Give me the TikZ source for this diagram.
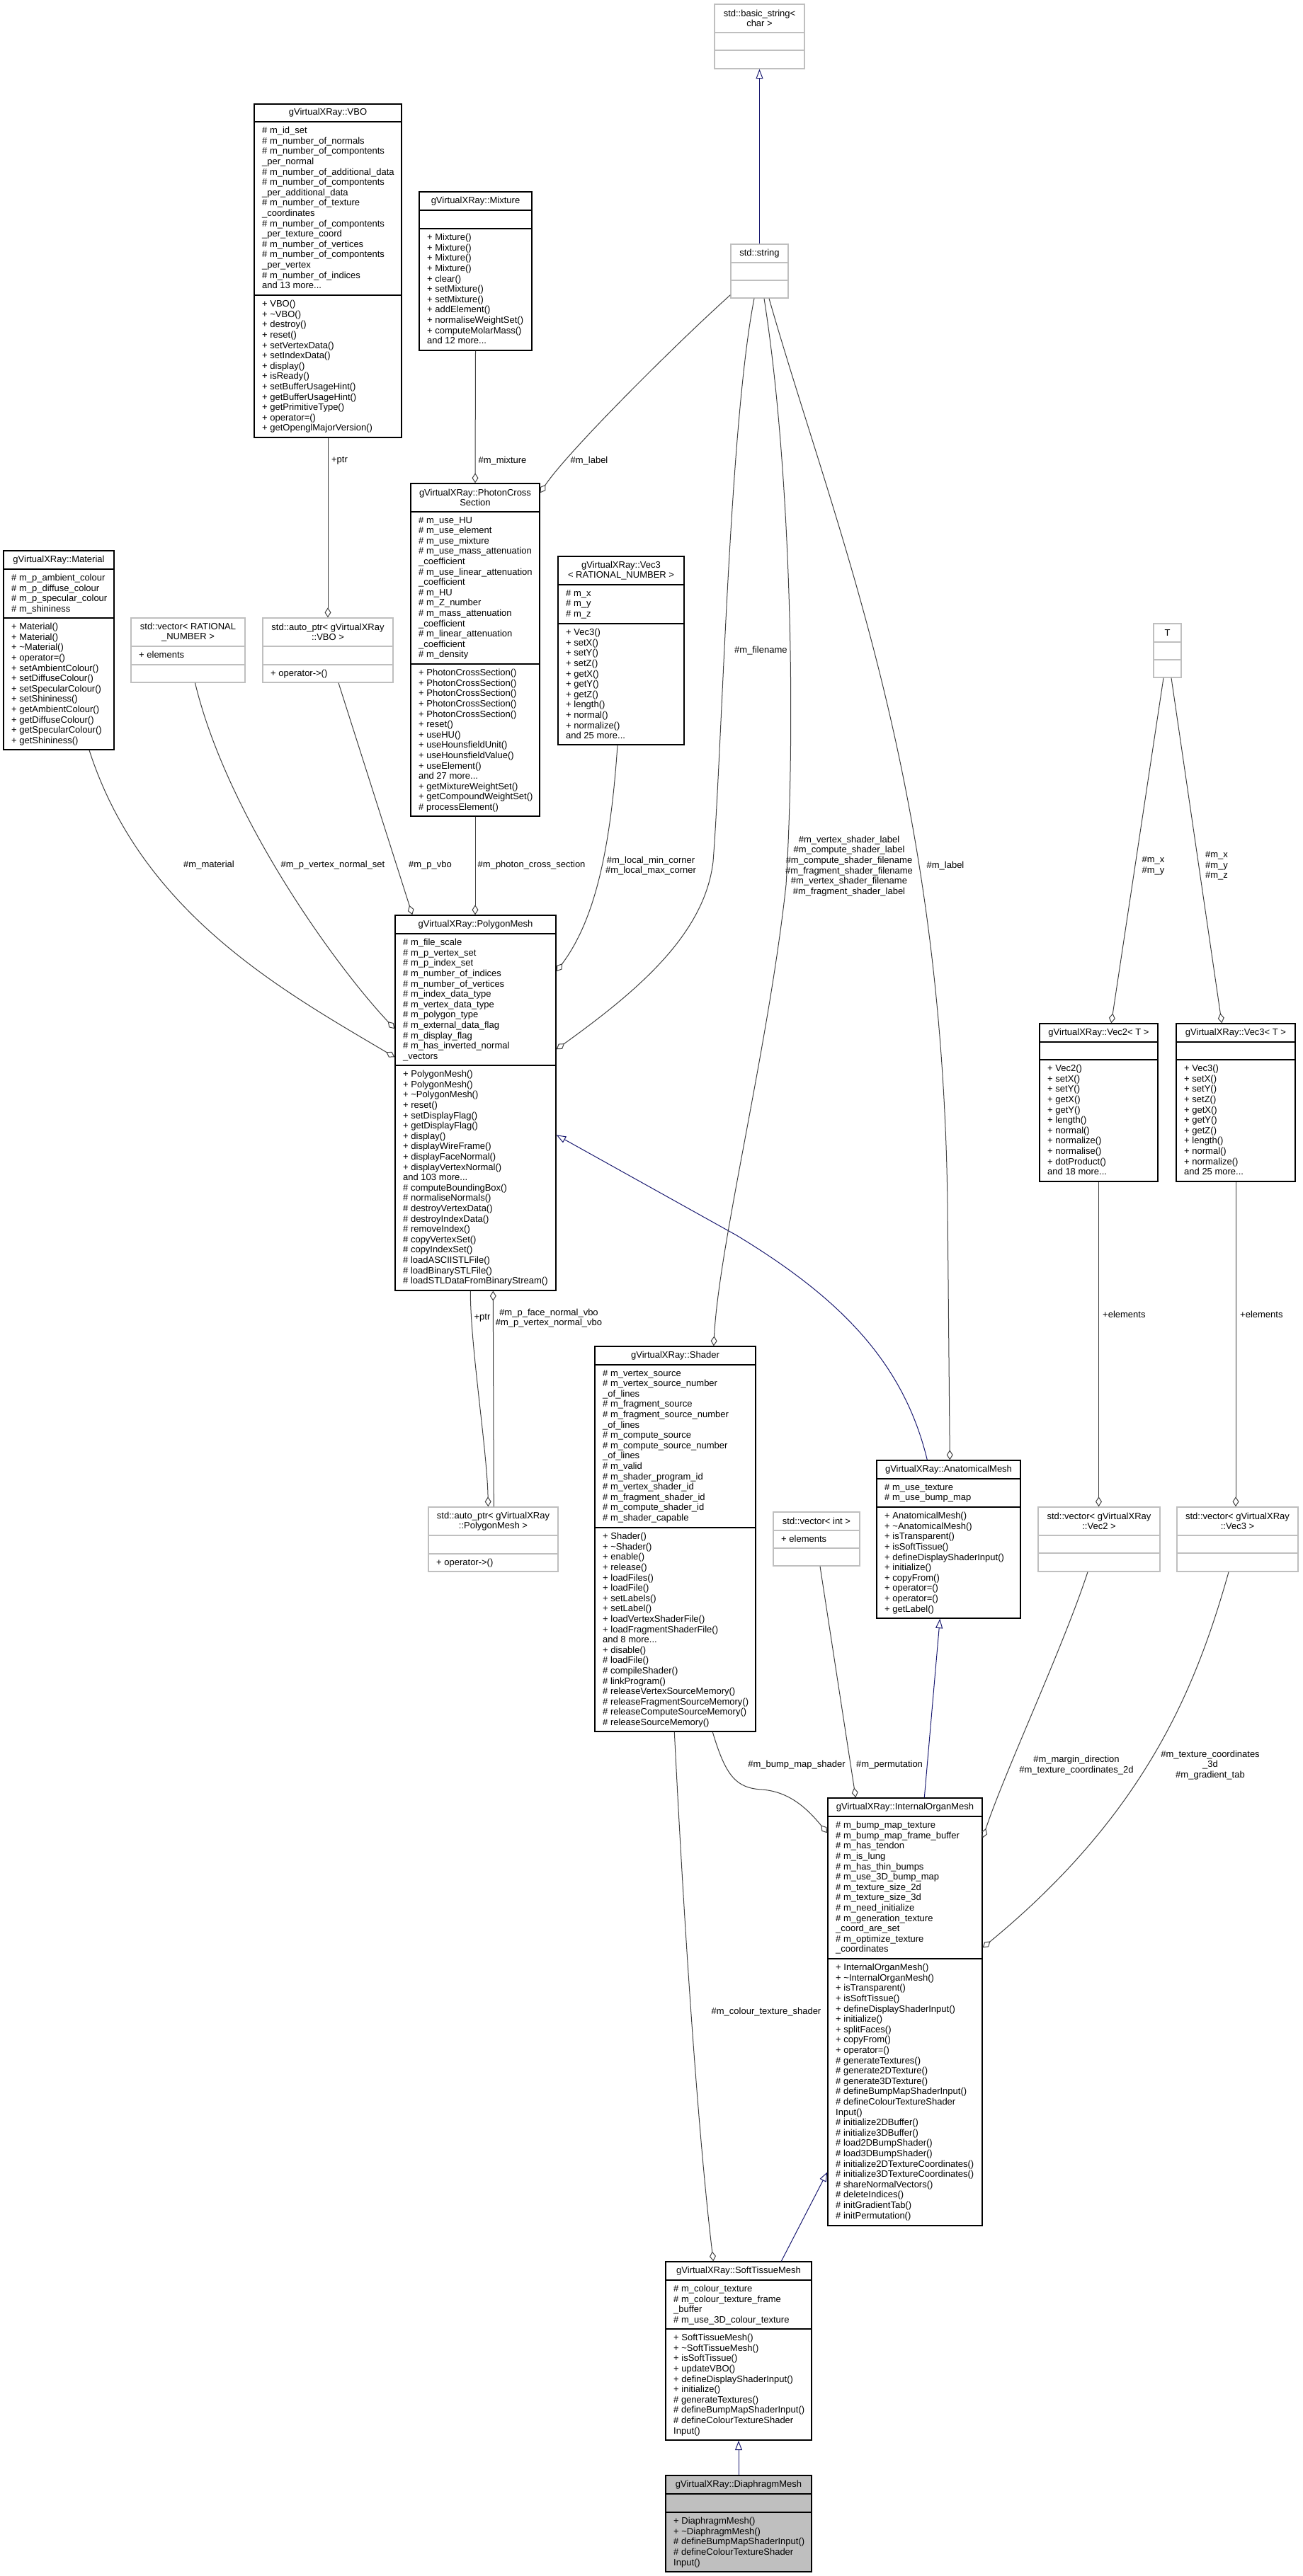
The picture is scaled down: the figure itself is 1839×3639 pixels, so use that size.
\documentclass[tikz,border=0pt]{standalone}
\usepackage{fontspec}
\setmainfont{Liberation Sans}
\usetikzlibrary{arrows.meta,calc,fit}
\definecolor{grey75}{HTML}{BFBFBF}
\definecolor{grey25}{HTML}{404040}
\definecolor{edgeblue}{HTML}{191970}
\def\dxfont{\fontsize{13}{14.6}\selectfont}
\tikzset{
	docbox/.style={draw=black, line width=1.4pt, inner sep=0pt},
	extbox/.style={draw=grey75, line width=1.4pt, inner sep=0pt},
	curbox/.style={docbox, fill=grey75},
	cltitle/.style={align=center, inner sep=0pt, font=\dxfont},
	members/.style={anchor=north west, align=left, inner sep=0pt, font=\dxfont},
	elabel/.style={align=center, inner sep=0pt, font=\dxfont},
	agg/.style={draw=grey25, line width=1pt, -{Diamond[open, length=14pt, width=9pt]}},
	inh/.style={draw=edgeblue, line width=1pt, -{Triangle[open, length=13.5pt, width=10pt]}}
}
% class box: style, name, (x1,top,x2), (title sep, member sep, bottom), title
\def\umlclass[#1](#2)(#3,#4,#5)(#6,#7,#8)#9{
	\node[#1, fit={(#3,#4) (#5,#8)}] (#2) {};
	\draw[#1, fill=none] (#3,#6) -- (#5,#6) (#3,#7) -- (#5,#7);
	\node[cltitle] (#2-t) at ({(#3+#5)/2},{(#4+#6)/2}) {#9};
}

\begin{document}
\begin{tikzpicture}[x=1pt, y=-1pt]
			%%%%% START %%%%%
			\useasboundingbox (0,0) rectangle (1839,3639);
			
			\umlclass[extbox](bstring)(1009,6,1136)(46,71,97){std::basic\_string<\\ char >}
			\umlclass[extbox](string)(1032,345,1113)(371,396,421){std::string}
			
			\umlclass[docbox](vbo)(359,147,567)(172,417,618){gVirtualXRay::VBO}
			\node[members] (vbo-a) at (370,179) {\# m\_id\_set\\\# m\_number\_of\_normals\\\# m\_number\_of\_compontents\\\_per\_normal\\\# m\_number\_of\_additional\_data\\\# m\_number\_of\_compontents\\\_per\_additional\_data\\\# m\_number\_of\_texture\\\_coordinates\\\# m\_number\_of\_compontents\\\_per\_texture\_coord\\\# m\_number\_of\_vertices\\\# m\_number\_of\_compontents\\\_per\_vertex\\\# m\_number\_of\_indices\\and 13 more...};
			\node[members] (vbo-m) at (370,424) {+ VBO()\\+ \textasciitilde VBO()\\+ destroy()\\+ reset()\\+ setVertexData()\\+ setIndexData()\\+ display()\\+ isReady()\\+ setBufferUsageHint()\\+ getBufferUsageHint()\\+ getPrimitiveType()\\+ operator=()\\+ getOpenglMajorVersion()};
			
			\umlclass[docbox](mixture)(592,271,751)(297,323,495){gVirtualXRay::Mixture}
			\node[members] (mixture-m) at (603,330) {+ Mixture()\\+ Mixture()\\+ Mixture()\\+ Mixture()\\+ clear()\\+ setMixture()\\+ setMixture()\\+ addElement()\\+ normaliseWeightSet()\\+ computeMolarMass()\\and 12 more...};
			
			\umlclass[docbox](material)(5,778,161)(804,873,1059){gVirtualXRay::Material}
			\node[members] (material-a) at (16,811) {\# m\_p\_ambient\_colour\\\# m\_p\_diffuse\_colour\\\# m\_p\_specular\_colour\\\# m\_shininess};
			\node[members] (material-m) at (16,880) {+ Material()\\+ Material()\\+ \textasciitilde Material()\\+ operator=()\\+ setAmbientColour()\\+ setDiffuseColour()\\+ setSpecularColour()\\+ setShininess()\\+ getAmbientColour()\\+ getDiffuseColour()\\+ getSpecularColour()\\+ getShininess()};
			
			\umlclass[extbox](vecrat)(185,873,346)(913,939,964){std::vector< RATIONAL\\\_NUMBER >}
			\node[members] (vecrat-a) at (196,920) {+ elements};
			
			\umlclass[extbox](autovbo)(371,873,555)(913,939,964){std::auto\_ptr< gVirtualXRay\\::VBO >}
			\node[members] (autovbo-m) at (382,946) {+ operator->()};
			
			\umlclass[docbox](photon)(580,683,762)(723,938,1153){gVirtualXRay::PhotonCross\\Section}
			\node[members] (photon-a) at (591,730) {\# m\_use\_HU\\\# m\_use\_element\\\# m\_use\_mixture\\\# m\_use\_mass\_attenuation\\\_coefficient\\\# m\_use\_linear\_attenuation\\\_coefficient\\\# m\_HU\\\# m\_Z\_number\\\# m\_mass\_attenuation\\\_coefficient\\\# m\_linear\_attenuation\\\_coefficient\\\# m\_density};
			\node[members] (photon-m) at (591,945) {+ PhotonCrossSection()\\+ PhotonCrossSection()\\+ PhotonCrossSection()\\+ PhotonCrossSection()\\+ PhotonCrossSection()\\+ reset()\\+ useHU()\\+ useHounsfieldUnit()\\+ useHounsfieldValue()\\+ useElement()\\and 27 more...\\+ getMixtureWeightSet()\\+ getCompoundWeightSet()\\\# processElement()};
			
			\umlclass[docbox](vecthree)(788,786,966)(826,881,1052){gVirtualXRay::Vec3\\< RATIONAL\_NUMBER >}
			\node[members] (vecthree-a) at (799,833) {\# m\_x\\\# m\_y\\\# m\_z};
			\node[members] (vecthree-m) at (799,888) {+ Vec3()\\+ setX()\\+ setY()\\+ setZ()\\+ getX()\\+ getY()\\+ getZ()\\+ length()\\+ normal()\\+ normalize()\\and 25 more...};
			
			\umlclass[extbox](tparam)(1629,881,1668)(907,932,957){T}
			
			\umlclass[docbox](polymesh)(558,1293,785)(1319,1505,1823){gVirtualXRay::PolygonMesh}
			\node[members] (polymesh-a) at (569,1326) {\# m\_file\_scale\\\# m\_p\_vertex\_set\\\# m\_p\_index\_set\\\# m\_number\_of\_indices\\\# m\_number\_of\_vertices\\\# m\_index\_data\_type\\\# m\_vertex\_data\_type\\\# m\_polygon\_type\\\# m\_external\_data\_flag\\\# m\_display\_flag\\\# m\_has\_inverted\_normal\\\_vectors};
			\node[members] (polymesh-m) at (569,1512) {+ PolygonMesh()\\+ PolygonMesh()\\+ \textasciitilde PolygonMesh()\\+ reset()\\+ setDisplayFlag()\\+ getDisplayFlag()\\+ display()\\+ displayWireFrame()\\+ displayFaceNormal()\\+ displayVertexNormal()\\and 103 more...\\\# computeBoundingBox()\\\# normaliseNormals()\\\# destroyVertexData()\\\# destroyIndexData()\\\# removeIndex()\\\# copyVertexSet()\\\# copyIndexSet()\\\# loadASCIISTLFile()\\\# loadBinarySTLFile()\\\# loadSTLDataFromBinaryStream()};
			
			\umlclass[docbox](vectwoT)(1468,1446,1635)(1472,1497,1669){gVirtualXRay::Vec2< T >}
			\node[members] (vectwoT-m) at (1479,1504) {+ Vec2()\\+ setX()\\+ setY()\\+ getX()\\+ getY()\\+ length()\\+ normal()\\+ normalize()\\+ normalise()\\+ dotProduct()\\and 18 more...};
			
			\umlclass[docbox](vecthreeT)(1661,1446,1829)(1472,1497,1669){gVirtualXRay::Vec3< T >}
			\node[members] (vecthreeT-m) at (1672,1504) {+ Vec3()\\+ setX()\\+ setY()\\+ setZ()\\+ getX()\\+ getY()\\+ getZ()\\+ length()\\+ normal()\\+ normalize()\\and 25 more...};
			
			\umlclass[extbox](autopm)(605,2129,788)(2169,2195,2220){std::auto\_ptr< gVirtualXRay\\::PolygonMesh >}
			\node[members] (autopm-m) at (616,2202) {+ operator->()};
			
			\umlclass[docbox](shader)(840,1902,1067)(1928,2158,2446){gVirtualXRay::Shader}
			\node[members] (shader-a) at (851,1935) {\# m\_vertex\_source\\\# m\_vertex\_source\_number\\\_of\_lines\\\# m\_fragment\_source\\\# m\_fragment\_source\_number\\\_of\_lines\\\# m\_compute\_source\\\# m\_compute\_source\_number\\\_of\_lines\\\# m\_valid\\\# m\_shader\_program\_id\\\# m\_vertex\_shader\_id\\\# m\_fragment\_shader\_id\\\# m\_compute\_shader\_id\\\# m\_shader\_capable};
			\node[members] (shader-m) at (851,2165) {+ Shader()\\+ \textasciitilde Shader()\\+ enable()\\+ release()\\+ loadFiles()\\+ loadFile()\\+ setLabels()\\+ setLabel()\\+ loadVertexShaderFile()\\+ loadFragmentShaderFile()\\and 8 more...\\+ disable()\\\# loadFile()\\\# compileShader()\\\# linkProgram()\\\# releaseVertexSourceMemory()\\\# releaseFragmentSourceMemory()\\\# releaseComputeSourceMemory()\\\# releaseSourceMemory()};
			
			\umlclass[docbox](anatom)(1238,2063,1441)(2089,2129,2286){gVirtualXRay::AnatomicalMesh}
			\node[members] (anatom-a) at (1249,2096) {\# m\_use\_texture\\\# m\_use\_bump\_map};
			\node[members] (anatom-m) at (1249,2136) {+ AnatomicalMesh()\\+ \textasciitilde AnatomicalMesh()\\+ isTransparent()\\+ isSoftTissue()\\+ defineDisplayShaderInput()\\+ initialize()\\+ copyFrom()\\+ operator=()\\+ operator=()\\+ getLabel()};
			
			\umlclass[extbox](vecint)(1092,2136,1214)(2162,2187,2212){std::vector< int >}
			\node[members] (vecint-a) at (1103,2169) {+ elements};
			
			\umlclass[extbox](vecvtwo)(1466,2129,1638)(2169,2194,2220){std::vector< gVirtualXRay\\::Vec2 >}
			\umlclass[extbox](vecvthree)(1662,2129,1833)(2169,2194,2220){std::vector< gVirtualXRay\\::Vec3 >}
			
			\umlclass[docbox](organ)(1169,2540,1387)(2566,2767,3144){gVirtualXRay::InternalOrganMesh}
			\node[members] (organ-a) at (1180,2573) {\# m\_bump\_map\_texture\\\# m\_bump\_map\_frame\_buffer\\\# m\_has\_tendon\\\# m\_is\_lung\\\# m\_has\_thin\_bumps\\\# m\_use\_3D\_bump\_map\\\# m\_texture\_size\_2d\\\# m\_texture\_size\_3d\\\# m\_need\_initialize\\\# m\_generation\_texture\\\_coord\_are\_set\\\# m\_optimize\_texture\\\_coordinates};
			\node[members] (organ-m) at (1180,2774) {+ InternalOrganMesh()\\+ \textasciitilde InternalOrganMesh()\\+ isTransparent()\\+ isSoftTissue()\\+ defineDisplayShaderInput()\\+ initialize()\\+ splitFaces()\\+ copyFrom()\\+ operator=()\\\# generateTextures()\\\# generate2DTexture()\\\# generate3DTexture()\\\# defineBumpMapShaderInput()\\\# defineColourTextureShader\\Input()\\\# initialize2DBuffer()\\\# initialize3DBuffer()\\\# load2DBumpShader()\\\# load3DBumpShader()\\\# initialize2DTextureCoordinates()\\\# initialize3DTextureCoordinates()\\\# shareNormalVectors()\\\# deleteIndices()\\\# initGradientTab()\\\# initPermutation()};
			
			\umlclass[docbox](soft)(940,3195,1146)(3221,3290,3447){gVirtualXRay::SoftTissueMesh}
			\node[members] (soft-a) at (951,3228) {\# m\_colour\_texture\\\# m\_colour\_texture\_frame\\\_buffer\\\# m\_use\_3D\_colour\_texture};
			\node[members] (soft-m) at (951,3297) {+ SoftTissueMesh()\\+ \textasciitilde SoftTissueMesh()\\+ isSoftTissue()\\+ updateVBO()\\+ defineDisplayShaderInput()\\+ initialize()\\\# generateTextures()\\\# defineBumpMapShaderInput()\\\# defineColourTextureShader\\Input()};
			
			\umlclass[curbox](diaphragm)(940,3497,1146)(3523,3549,3633){gVirtualXRay::DiaphragmMesh}
			\node[members] (diaphragm-m) at (951,3556) {+ DiaphragmMesh()\\+ \textasciitilde DiaphragmMesh()\\\# defineBumpMapShaderInput()\\\# defineColourTextureShader\\Input()};
			
			% inheritance
			\draw[inh] (string.north) -- (bstring.south);
			\draw[inh] ($(anatom.north west)+(72,0)$) .. controls (1275,1920) and (1180,1830) .. (1040,1745) -- ($(polymesh.north east)+(0,311)$);
			\draw[inh] ($(organ.north west)+(137,0)$) -- ($(anatom.south west)+(90,0)$);
			\draw[inh] ($(soft.north west)+(164,0)$) -- ($(organ.north west)+(0,529)$);
			\draw[inh] (diaphragm.north) -- (soft.south);
			
			% members
			\draw[agg] (vbo.south) -- (autovbo.north);
			\draw[agg] (mixture.south) -- (photon.north);
			\draw[agg] ($(string.south west)+(0,-5)$) .. controls (950,490) and (800,640) .. ($(photon.north east)+(0,14)$);
			\draw[agg] ($(autovbo.south)+(15,0)$) -- ($(polymesh.north west)+(25,0)$);
			\draw[agg] (photon.south) -- (photon.south |- polymesh.north);
			\draw[agg] ($(material.south)+(43,0)$) .. controls (200,1290) and (400,1400) .. ($(polymesh.north west)+(0,201)$);
			\draw[agg] ($(vecrat.south)+(10,0)$) .. controls (320,1150) and (470,1360) .. ($(polymesh.north west)+(0,161)$);
			\draw[agg] ($(vecthree.south)+(-5,0)$) .. controls (862,1200) and (840,1300) .. ($(polymesh.north east)+(0,80)$);
			\draw[agg] ($(string.south)+(-7.5,0)$) .. controls (1030,600) and (1020,1050) .. (1007,1217) .. controls (995,1320) and (900,1400) .. ($(polymesh.north east)+(0,190)$);
			\draw[agg] ($(string.south)+(6.5,0)$) .. controls (1115,650) and (1125,1000) .. (1110,1250) .. controls (1085,1480) and (1015,1760) .. ($(shader.north west)+(168.5,0)$);
			\draw[agg] ($(string.south)+(13.5,0)$) .. controls (1180,750) and (1330,1100) .. (1338,1700) -- ($(anatom.north west)+(104,0)$);
			\draw[agg] ($(tparam.south)+(-5.5,0)$) -- ($(vectwoT.north west)+(102,0)$);
			\draw[agg] ($(tparam.south)+(5.5,0)$) -- ($(vecthreeT.north west)+(65,0)$);
			\draw[agg] ($(polymesh.south west)+(107,0)$) .. controls (664,1900) and (688,2050) .. ($(autopm.north west)+(85,0)$);
			\draw[agg] ($(autopm.north west)+(93,0)$) -- ($(polymesh.south west)+(139,0)$);
			\draw[agg] (vectwoT.south) -- (vectwoT.south |- vecvtwo.north);
			\draw[agg] (vecthreeT.south) -- (vecthreeT.south |- vecvthree.north);
			\draw[agg] ($(vecint.south)+(5,0)$) -- ($(organ.north west)+(40,0)$);
			\draw[agg] ($(shader.south west)+(167,0)$) .. controls (1025,2510) and (1040,2526) .. (1076,2528) .. controls (1115,2531) and (1140,2555) .. ($(organ.north west)+(0,50)$);
			\draw[agg] ($(vecvtwo.south)+(-16,0)$) .. controls (1500,2330) and (1420,2500) .. ($(organ.north east)+(0,57)$);
			\draw[agg] ($(vecvthree.south)+(-12.5,0)$) .. controls (1690,2380) and (1620,2560) .. ($(organ.north east)+(0,212)$);
			\draw[agg] ($(shader.south west)+(113,0)$) .. controls (970,2800) and (990,3050) .. ($(soft.north west)+(68,0)$);
			
			% labels
			\node[elabel] (l-vboptr) at (479.5,651) {+ptr};
			\node[elabel] (l-mixture) at (709.5,651) {\#m\_mixture};
			\node[elabel] (l-plabel) at (832,651) {\#m\_label};
			\node[elabel, anchor=west] (l-filename) at (1037,919) {\#m\_filename};
			\node[elabel] (l-material) at (295,1222) {\#m\_material};
			\node[elabel] (l-vnormal) at (470,1222) {\#m\_p\_vertex\_normal\_set};
			\node[elabel] (l-pvbo) at (607.5,1222) {\#m\_p\_vbo};
			\node[elabel] (l-photon) at (750.6,1222) {\#m\_photon\_cross\_section};
			\node[elabel] (l-corner) at (919,1223) {\#m\_local\_min\_corner\\\#m\_local\_max\_corner};
			\node[elabel] (l-shader) at (1199,1223.5) {\#m\_vertex\_shader\_label\\\#m\_compute\_shader\_label\\\#m\_compute\_shader\_filename\\\#m\_fragment\_shader\_filename\\\#m\_vertex\_shader\_filename\\\#m\_fragment\_shader\_label};
			\node[elabel] (l-alabel) at (1335,1223) {\#m\_label};
			\node[elabel] (l-txy) at (1628.5,1223) {\#m\_x\\\#m\_y};
			\node[elabel] (l-txyz) at (1718,1223) {\#m\_x\\\#m\_y\\\#m\_z};
			\node[elabel] (l-pmptr) at (681,1862) {+ptr};
			\node[elabel] (l-normalvbo) at (775,1862) {\#m\_p\_face\_normal\_vbo\\\#m\_p\_vertex\_normal\_vbo};
			\node[elabel, anchor=west] (l-eltwo) at (1557,1857) {+elements};
			\node[elabel, anchor=west] (l-elthree) at (1751,1857) {+elements};
			\node[elabel] (l-bump) at (1125,2493) {\#m\_bump\_map\_shader};
			\node[elabel] (l-perm) at (1256,2493) {\#m\_permutation};
			\node[elabel] (l-margin) at (1520,2493.5) {\#m\_margin\_direction\\\#m\_texture\_coordinates\_2d};
			\node[elabel] (l-texthree) at (1709,2493.5) {\#m\_texture\_coordinates\\\_3d\\\#m\_gradient\_tab};
			\node[elabel] (l-colour) at (1082,2842) {\#m\_colour\_texture\_shader};
			
			%%%%% END %%%%%
\end{tikzpicture}
\end{document}
